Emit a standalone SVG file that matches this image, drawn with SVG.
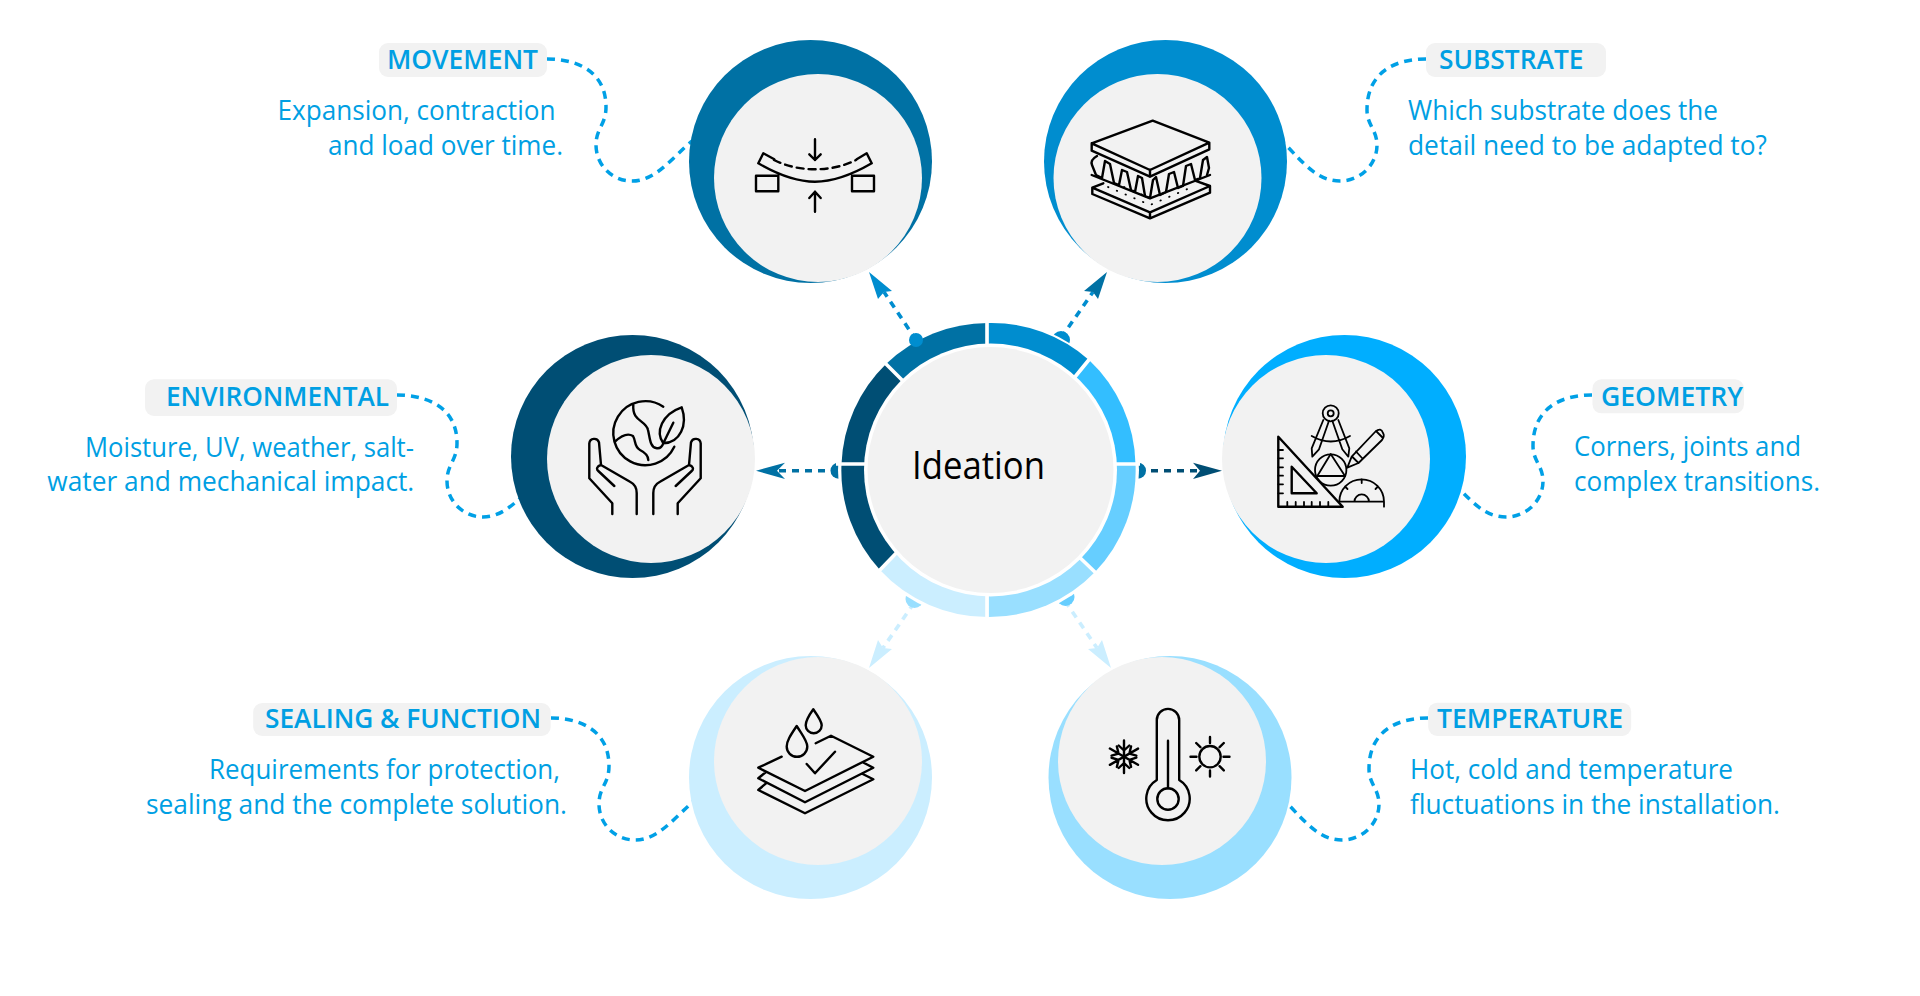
<svg xmlns="http://www.w3.org/2000/svg" width="1920" height="996" viewBox="0 0 1920 996">
  <style>
    text { font-family: "Open Sans", "Noto Sans", "Liberation Sans", sans-serif; fill: #009FE3; }
    .t { font-size: 27px; font-weight: 600; }
    .b { font-size: 27px; font-weight: 400; }
    .box { fill: #F2F2F2; }
    .disc { fill: #F2F2F2; }
    .ln { fill: none; stroke: #000; stroke-width: 2.4; stroke-linecap: round; stroke-linejoin: round; }
    .thin { stroke-width: 1.8; }
    .curl { fill: none; stroke: #00A0E6; stroke-width: 3.5; stroke-dasharray: 8 6; }
    .dash { fill: none; stroke-width: 3.6; stroke-dasharray: 7 6; }
  </style>

  <g id="connectors">
    <path class="curl" d="M547 59C575 59 606 70 606 107C606 125 596 128 596 145C596 165 612 181 632 181C655 181 670 160 692 141"/>
    <path class="curl" d="M1426 59C1395 59 1367 72 1367 110C1367 125 1377 130 1377 145C1377 165 1360 181 1340 181C1318 181 1305 165 1284 143"/>
    <path class="curl" d="M397 395C425 395 457 406 457 443C457 461 447 464 447 481C447 501 463 517 483 517C506 517 521 496 543 477"/>
    <path class="curl" d="M1592 395C1561 395 1533 408 1533 446C1533 461 1543 466 1543 481C1543 501 1526 517 1506 517C1484 517 1471 501 1450 479"/>
    <path class="curl" d="M551 718C578 718 609 729 609 766C609 784 599 787 599 804C599 824 615 840 635 840C658 840 673 819 695 800"/>
    <path class="curl" d="M1428 718C1397 718 1369 731 1369 769C1369 784 1379 789 1379 804C1379 824 1362 840 1342 840C1320 840 1307 824 1286 802"/>

    <!-- spokes from the hub to the six satellites -->
    <path class="dash" stroke="#008DCF" d="M916 340L884 292"/>
    <path fill="#008DCF" d="M869 272L892 291L884 292L878 299Z"/>
    <path class="dash" stroke="#008DCF" d="M1061 338L1093 292"/>
    <path fill="#0071A4" d="M1107 272L1084 291L1093 292L1098 299Z"/>
    <circle cx="1061" cy="340" r="9" fill="#008DCF"/>
    <path class="dash" stroke="#0071A4" d="M838 470.7H777"/>
    <path fill="#0071A4" d="M756 470.7L785 462.7L777 470.7L785 479Z"/>
    <circle cx="838.500" cy="470.7" r="8" fill="#0071A4"/>
    <path class="dash" stroke="#004E74" d="M1138 470.7H1200"/>
    <path fill="#004E74" d="M1222 470.7L1193 462.7L1200 470.7L1193 479Z"/>
    <circle cx="1138" cy="470.7" r="8" fill="#0071A4"/>
    <path class="dash" stroke="#CBEEFF" d="M914 603L883 648"/>
    <path fill="#CBEEFF" d="M869 668L892 649L883 648L878 640Z"/>
    <circle cx="914.500" cy="599" r="9" fill="#99DFFF"/>
    <path class="dash" stroke="#CBEEFF" d="M1065 601L1097 648"/>
    <path fill="#CBEEFF" d="M1111 668L1088 649L1097 648L1102 640Z"/>
    <circle cx="1065.500" cy="597" r="9" fill="#66CEFF"/>
  </g>

  <g id="hub">
    <circle cx="988.5" cy="470" r="150.5" fill="#fff"/>
    <path fill="#0071A4" d="M988.5 470L886 364A147 147 0 0 1 988.5 323Z"/>
    <path fill="#008DCF" d="M988.5 470V323A147 147 0 0 1 1089 360Z"/>
    <path fill="#33BEFF" d="M988.5 470L1089 360A147 147 0 0 1 1135.5 464Z"/>
    <path fill="#66CEFF" d="M988.5 470L1135.5 464A147 147 0 0 1 1095 572Z"/>
    <path fill="#99DFFF" d="M988.5 470L1095 572A147 147 0 0 1 988.5 617Z"/>
    <path fill="#CBEEFF" d="M988.5 470V617A147 147 0 0 1 880 570Z"/>
    <path fill="#004E74" d="M988.5 470L880 570A147 147 0 0 1 841.5 464Z"/>
    <path fill="#004E74" d="M988.5 470L841.5 464A147 147 0 0 1 886 364Z"/>
    <path fill="none" stroke="#fff" stroke-width="3.6" d="M987 320V625M836 464H1140M884 362L910 388M1092 356L1070 383M1098 575L1072 550M877 573L905 544"/>
    <circle cx="990.5" cy="470" r="126.5" fill="#fff"/>
    <circle class="disc" cx="990.5" cy="470" r="123"/>
    <text x="912" y="479" font-size="38" textLength="133" lengthAdjust="spacingAndGlyphs" style="fill:#000">Ideation</text>
    <circle cx="916" cy="340" r="7" fill="#008DCF"/>
  </g>

  <g id="movement">
    <circle cx="810.5" cy="161.5" r="121.5" fill="#0071A4"/>
    <circle class="disc" cx="818" cy="178" r="104"/>
    <path class="ln" d="M756 175.7H778.3V191.3H756ZM852 175.7H874V191.3H852ZM774.3 159.3L763.3 153.3L758.3 163.3C775 173 795 181.7 815 181.7C835 181.7 855 173 871.7 163.3L866.7 153.3L856.7 159.3"/>
    <path class="ln" stroke-dasharray="7 5" d="M774 160C786 166 800 169.3 815 169.3C830 169.3 844 166 856 160"/>
    <path class="ln" d="M815 139.3V160M809.3 154.3L815 160L820.7 154.3M815 211.7V191.7M809.3 198L815 191.7L820.7 198"/>
    <rect class="box" x="379" y="43" width="168" height="34" rx="9"/>
    <text class="t" x="387" y="69" textLength="151" lengthAdjust="spacingAndGlyphs">MOVEMENT</text>
    <text class="b" x="277.500" y="120" textLength="278" lengthAdjust="spacingAndGlyphs">Expansion, contraction</text>
    <text class="b" x="328" y="155" textLength="235" lengthAdjust="spacingAndGlyphs">and load over time.</text>
  </g>

  <g id="substrate">
    <circle cx="1165.5" cy="161.5" r="121.5" fill="#008DCF"/>
    <circle class="disc" cx="1157.5" cy="178" r="104"/>
    <path class="ln" d="M1152.7 120.7L1209.3 142.7L1150 170L1091.7 143.3ZM1091.7 143.3V150.7L1150 176.7L1209.3 149.3V142.7M1150 170V176.7"/>
    <path class="ln" d="M1091.7 175L1150 198.3L1210 175M1103.3 183.3L1092.3 187.7L1150 212.3L1210 186L1195 180.7M1092.3 187.7V194L1150 218.3L1210 192.7V186M1150 212.3V218.3"/>
    <path class="ln" d="M1097 156Q1090 160 1092 165L1096 175L1102 178L1105 161L1110 164L1114 183L1119 185L1122 170L1127 172L1131 190L1135 192L1138 176L1142 178L1145 196L1150 198L1153 180L1156 177L1160 195L1166 192L1169 174L1174 172L1178 188L1183 186L1186 166L1191 164L1195 180L1200 178L1203 160L1207 157L1209 168L1207 175"/>
    <path class="ln thin" stroke-dasharray="0.5 9" d="M1108 187L1150 205L1192 187M1124 187L1150 198"/>
    <rect class="box" x="1426" y="43" width="180" height="34" rx="9"/>
    <text class="t" x="1439" y="69" textLength="144.500" lengthAdjust="spacingAndGlyphs">SUBSTRATE</text>
    <text class="b" x="1408" y="120" textLength="310" lengthAdjust="spacingAndGlyphs">Which substrate does the</text>
    <text class="b" x="1408" y="155" textLength="359" lengthAdjust="spacingAndGlyphs">detail need to be adapted to?</text>
  </g>

  <g id="environmental">
    <circle cx="632.500" cy="456.500" r="121.500" fill="#004E74"/>
    <circle class="disc" cx="651" cy="459" r="104"/>
    <path class="ln" d="M663.300 406.700A32 32 0 1 0 674.300 446.700M681.700 407.300C662 414 655 432 663.300 443.300C680 443 688 425 681.700 407.300ZM663.300 443.300L673.300 422.700M633.300 405C632 422 646 420 648 430C650 438 650 447 656 448C660 449 662 447 663.300 443.300M615 441.700C622 435 628 433 633 436C636 441 634 447 640 450C646 453 648.300 456 648.300 460"/>
    <path class="ln" d="M612.300 514V503.300L589.300 478.300V443.300A5 5 0 0 1 599 442.300L601 465C597 466 596 469 598.300 471L614.300 486M601 465L630 481.700C634.500 484 636.700 488 636.700 493V514"/>
    <path class="ln" transform="matrix(-1 0 0 1 1290 0)" d="M612.300 514V503.300L589.300 478.300V443.300A5 5 0 0 1 599 442.300L601 465C597 466 596 469 598.300 471L614.300 486M601 465L630 481.700C634.500 484 636.700 488 636.700 493V514"/>
    <rect class="box" x="145" y="379.300" width="252" height="36.700" rx="9"/>
    <text class="t" x="166" y="405.700" textLength="223" lengthAdjust="spacingAndGlyphs">ENVIRONMENTAL</text>
    <text class="b" x="85" y="456.700" textLength="329" lengthAdjust="spacingAndGlyphs">Moisture, UV, weather, salt-</text>
    <text class="b" x="47.300" y="490.700" textLength="367" lengthAdjust="spacingAndGlyphs">water and mechanical impact.</text>
  </g>

  <g id="geometry">
    <circle cx="1344.500" cy="456.500" r="121.500" fill="#00AEFF"/>
    <circle class="disc" cx="1326" cy="459" r="104"/>
    <circle class="ln thin" cx="1330.700" cy="413.300" r="8"/>
    <circle class="ln thin" cx="1330.700" cy="413.300" r="3"/>
    <path class="ln thin" d="M1323.300 420L1311.700 448.300L1312.300 456.700L1319 449.300L1329 420.700M1338.300 420L1349.300 448.300L1348.300 456.700L1342.300 449.300L1332.300 420.700M1311.700 436Q1330.700 447 1350 436"/>
    <circle class="ln thin" cx="1330.700" cy="470" r="15.700"/>
    <path class="ln thin" d="M1330.700 454L1317.300 476H1345Z"/>
    <path class="ln thin" d="M1347.300 467.700L1351.700 456.700L1375.500 431.500Q1381 427 1383 433Q1385 436 1382 440L1358.500 463ZM1352 456.500L1358.500 463M1356 451.500L1362 458M1376 431L1383 438"/>
    <path class="ln" style="fill:#F2F2F2" d="M1278.300 436.700V506.700H1342.700Z"/>
    <path class="ln" d="M1291.700 466.700V493.300H1316.700Z"/>
    <path class="ln thin" d="M1278.300 450H1283M1278.300 458.300H1283M1278.300 467.300H1283M1278.300 475.700H1283M1278.300 484.300H1283M1278.300 493.300H1283M1287.300 506.700V502M1295.700 506.700V502M1304 506.700V502M1311.700 506.700V502M1320 506.700V502M1328.300 506.700V502"/>
    <path class="ln thin" d="M1339.300 501.700A22.300 22.300 0 0 1 1384 501.700V506.700M1339.300 501.700H1384M1354.400 501.700A7.300 7.300 0 0 1 1369 501.700M1345 486.500L1347.500 489M1361.700 479.400V483M1378 486.500L1375.500 489"/>
    <rect class="box" x="1592.500" y="379.300" width="151.500" height="34" rx="9"/>
    <text class="t" x="1601" y="405.700" textLength="142" lengthAdjust="spacingAndGlyphs">GEOMETRY</text>
    <text class="b" x="1574" y="456" textLength="227" lengthAdjust="spacingAndGlyphs">Corners, joints and</text>
    <text class="b" x="1574" y="490.700" textLength="246" lengthAdjust="spacingAndGlyphs">complex transitions.</text>
  </g>

  <g id="sealing">
    <circle cx="810.500" cy="777.500" r="121.500" fill="#CBEEFF"/>
    <circle class="disc" cx="818" cy="761" r="104"/>
    <path class="ln" d="M781.700 756.700L758.300 767.700L805 791L873.300 756.700L831 735.700L815.700 743.300M766 772L758.300 778.300L805 802.300L873.300 767.700L862.700 762.300M766 783.300L758.300 790L805 813.300L873.300 779.300L862.700 774M806.700 764L815 773.300L835 751.700"/>
    <path class="ln" d="M796.700 726C790 736 786.700 741 786.700 746.500A10.300 10.300 0 0 0 807.300 746.500C807.300 741 803 736 796.700 726ZM813.300 709.300C808.500 716 805.700 721 805.700 725.300A8 8 0 0 0 821.700 725.300C821.700 721 818 716 813.300 709.300Z"/>
    <rect class="box" x="253.200" y="703" width="297.500" height="33" rx="9"/>
    <text class="t" x="265" y="728.300" textLength="276" lengthAdjust="spacingAndGlyphs">SEALING &amp; FUNCTION</text>
    <text class="b" x="209" y="779" textLength="351" lengthAdjust="spacingAndGlyphs">Requirements for protection,</text>
    <text class="b" x="146" y="814.300" textLength="421" lengthAdjust="spacingAndGlyphs">sealing and the complete solution.</text>
  </g>

  <g id="temperature">
    <circle cx="1170" cy="777.500" r="121.500" fill="#99DFFF"/>
    <circle class="disc" cx="1162" cy="761" r="104"/>
    <path class="ln" d="M1156.800 720A11.200 11.200 0 0 1 1179.200 720V780A21.700 21.700 0 1 1 1156.800 780ZM1168 740.700V788.300"/>
    <circle class="ln" cx="1168" cy="799" r="10.700"/>
    <g class="ln">
      <path d="M1124 740.500V773M1118.700 745.500L1124 750.500L1129.300 745.500M1118.700 768L1124 763L1129.300 768"/>
      <path transform="rotate(60 1124 756.700)" d="M1124 740.500V773M1118.700 745.500L1124 750.500L1129.300 745.500M1118.700 768L1124 763L1129.300 768"/>
      <path transform="rotate(120 1124 756.700)" d="M1124 740.500V773M1118.700 745.500L1124 750.500L1129.300 745.500M1118.700 768L1124 763L1129.300 768"/>
    </g>
    <circle class="ln" cx="1210" cy="756.700" r="10.700"/>
    <path class="ln" d="M1210 737V743M1210 770.500V776.500M1190.500 756.700H1196.500M1223.500 756.700H1229.500M1196.200 743L1200.400 747.200M1219.600 766.200L1223.800 770.400M1196.200 770.400L1200.400 766.200M1219.600 747.200L1223.800 743"/>
    <rect class="box" x="1428.200" y="702.700" width="203" height="33.300" rx="9"/>
    <text class="t" x="1437" y="728.300" textLength="186" lengthAdjust="spacingAndGlyphs">TEMPERATURE</text>
    <text class="b" x="1410" y="779" textLength="323" lengthAdjust="spacingAndGlyphs">Hot, cold and temperature</text>
    <text class="b" x="1410" y="814.300" textLength="370" lengthAdjust="spacingAndGlyphs">fluctuations in the installation.</text>
  </g>
</svg>
